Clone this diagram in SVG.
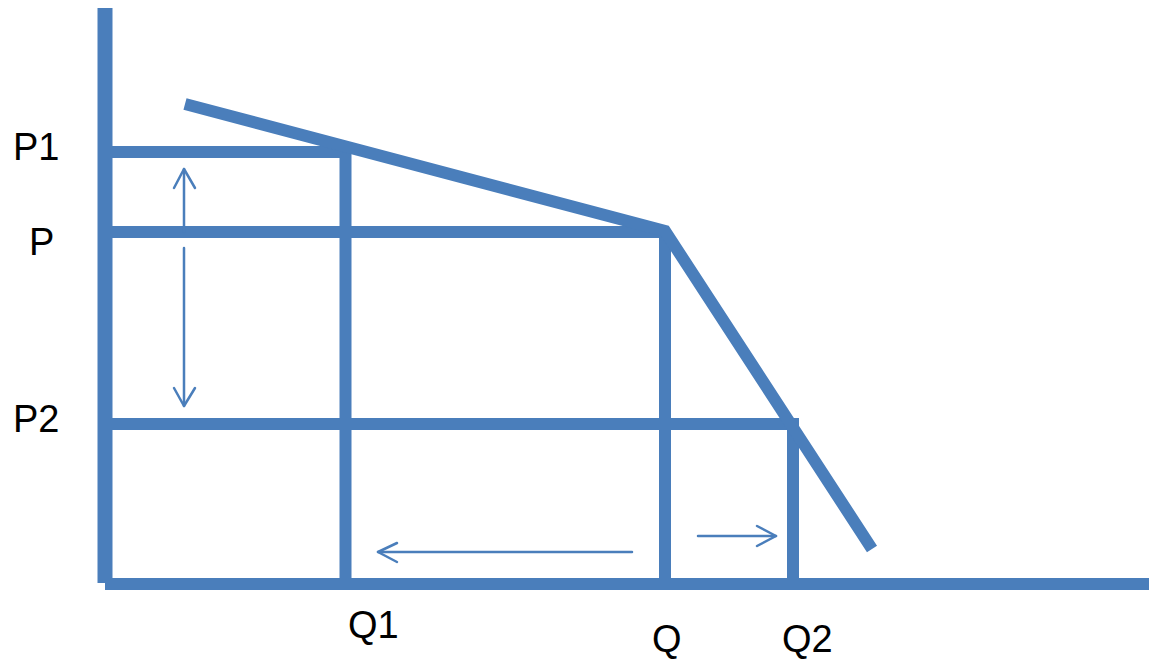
<svg xmlns="http://www.w3.org/2000/svg" width="1149" height="663" viewBox="0 0 1149 663">
<style>
.thick{stroke:#4a7ebb;stroke-width:12;fill:none;stroke-linecap:butt}
.axis{stroke:#4a7ebb;stroke-width:15;fill:none}
.thin{stroke:#4a7ebb;stroke-width:2.5;fill:none;stroke-linecap:round;stroke-linejoin:round}
.lbl{font-family:"Liberation Sans",Arial,sans-serif;font-size:38px;fill:#000}
</style>
<rect width="1149" height="663" fill="#fff"/>
<g id="axes">
<line class="axis" x1="105" y1="8" x2="105" y2="583"/>
<line class="thick" x1="105" y1="584" x2="1149" y2="584"/>
</g>
<g id="grid">
<line class="thick" x1="112" y1="152" x2="351" y2="152"/>
<line class="thick" x1="112" y1="232" x2="665" y2="232"/>
<line class="thick" x1="112" y1="424" x2="799" y2="424"/>
<line class="thick" x1="345.5" y1="146" x2="345.5" y2="580"/>
<line class="thick" x1="665" y1="232" x2="665" y2="580"/>
<line class="thick" x1="793" y1="424" x2="793" y2="580"/>
</g>
<g id="demand">
<polyline class="thick" points="185,104 665,231 872,549"/>
</g>
<g id="connectors">
<line class="thin" x1="184" y1="232" x2="184" y2="169"/>
<polyline class="thin" points="174,188 184,169 195,188"/>
<line class="thin" x1="184" y1="248" x2="184" y2="406"/>
<polyline class="thin" points="174,388 184,406 195,388"/>
<line class="thin" x1="632" y1="552" x2="378" y2="552"/>
<polyline class="thin" points="397,543 378,552 397,562"/>
<line class="thin" x1="698" y1="536" x2="776" y2="536"/>
<polyline class="thin" points="757,526 776,536 757,546"/>
</g>
<g id="labels">
<text class="lbl" x="13" y="160">P1</text>
<text class="lbl" x="29" y="255">P</text>
<text class="lbl" x="13" y="432">P2</text>
<text class="lbl" x="348" y="638">Q1</text>
<text class="lbl" x="652" y="652">Q</text>
<text class="lbl" x="782" y="652">Q2</text>
</g>
</svg>
